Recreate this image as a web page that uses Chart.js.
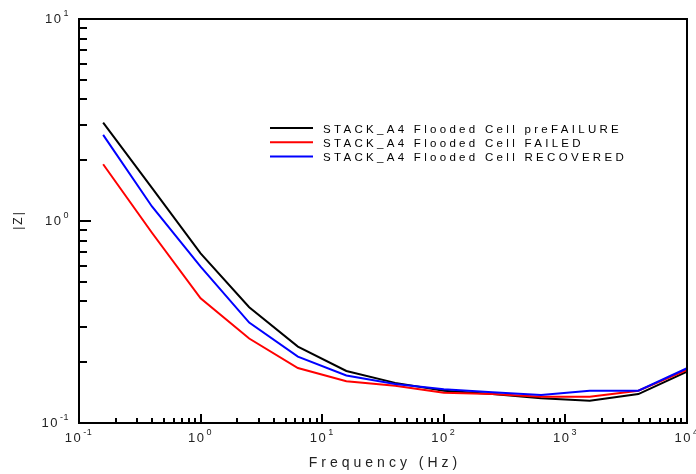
<!DOCTYPE html>
<html>
<head>
<meta charset="utf-8">
<script src="https://cdn.jsdelivr.net/npm/chart.js@4/dist/chart.umd.min.js"></script>
<style>
  html, body { margin: 0; padding: 0; background: #fff; }
  #wrap { width: 696px; height: 474px; }
</style>
</head>
<body>
<div id="wrap"><canvas id="zChart" width="696" height="474"></canvas></div>
<script>
// Frequency points (Hz), 2.5 points per decade
const freq = [0.158, 0.398, 1, 2.51, 6.31, 15.8, 39.8, 100, 251, 631, 1585, 3981, 10000];

// |Z| values
const preFailure = [3.07, 1.46, 0.692, 0.374, 0.239, 0.181, 0.158, 0.1445, 0.139, 0.1325, 0.129, 0.139, 0.1795];
const failed     = [1.91, 0.875, 0.414, 0.262, 0.187, 0.161, 0.153, 0.141, 0.139, 0.135, 0.135, 0.1445, 0.183];
const recovered  = [2.67, 1.18, 0.594, 0.314, 0.213, 0.172, 0.156, 0.147, 0.142, 0.1376, 0.1445, 0.1445, 0.1866];

const seriesNames = [
  'STACK_A4 Flooded Cell preFAILURE',
  'STACK_A4 Flooded Cell FAILED',
  'STACK_A4 Flooded Cell RECOVERED'
];
const seriesColors = ['#000000', '#ff0000', '#0000ff'];

// axis decades (powers of ten)
const xDecades = [-1, 0, 1, 2, 3, 4];
const yDecades = [-1, 0, 1];
const xTitle = 'Frequency (Hz)';
const yTitle = '|Z|';

const FONT = "'Liberation Sans', Arial, Helvetica, sans-serif";

function toPoints(values) {
  return freq.map((f, i) => ({ x: f, y: values[i] }));
}

// draws "10" with a raised exponent, returns nothing
function drawPower(ctx, exp, x, y, align) {
  ctx.letterSpacing = '1.5px';
  ctx.font = '13px ' + FONT;
  const baseW = ctx.measureText('10').width;
  ctx.font = '9px ' + FONT;
  ctx.letterSpacing = '0.5px';
  const expW = ctx.measureText(String(exp)).width;
  let left;
  if (align === 'center') left = x - (baseW + expW) / 2;
  else left = x - baseW - expW; // right aligned
  ctx.textAlign = 'left';
  ctx.textBaseline = 'middle';
  ctx.font = '13px ' + FONT;
  ctx.letterSpacing = '1.5px';
  ctx.fillText('10', left, y);
  ctx.font = '9px ' + FONT;
  ctx.letterSpacing = '0.5px';
  ctx.fillText(String(exp), left + baseW + 1, y - 5);
}

const frameAndTicks = {
  id: 'frameAndTicks',
  afterDraw(chart) {
    const { ctx, chartArea: a, scales } = chart;
    const x = scales.x, y = scales.y;
    ctx.save();
    ctx.strokeStyle = '#000';
    ctx.fillStyle = '#000';
    ctx.lineWidth = 2;
    ctx.strokeRect(a.left, a.top, a.right - a.left, a.bottom - a.top);

    // x ticks, pointing inward from bottom
    ctx.beginPath();
    xDecades.forEach((d, i) => {
      const last = i === xDecades.length - 1;
      for (let m = 1; m <= (last ? 1 : 9); m++) {
        const px = Math.round(x.getPixelForValue(m * Math.pow(10, d)));
        const len = m === 1 ? 9 : 5;
        ctx.moveTo(px, a.bottom);
        ctx.lineTo(px, a.bottom - len);
      }
    });
    // y ticks, pointing inward from left
    yDecades.forEach((d, i) => {
      const last = i === yDecades.length - 1;
      for (let m = 1; m <= (last ? 1 : 9); m++) {
        const py = Math.round(y.getPixelForValue(m * Math.pow(10, d)));
        const len = m === 1 ? 12 : 8;
        ctx.moveTo(a.left, py);
        ctx.lineTo(a.left + len, py);
      }
    });
    ctx.stroke();

    // tick labels
    ctx.fillStyle = '#222';
    xDecades.forEach(d => {
      drawPower(ctx, d, x.getPixelForValue(Math.pow(10, d)) - 1, a.bottom + 15, 'center');
    });
    yDecades.forEach(d => {
      drawPower(ctx, d, a.left - 11, y.getPixelForValue(Math.pow(10, d)), 'right');
    });

    // axis titles
    ctx.font = '14px ' + FONT;
    ctx.letterSpacing = '4px';
    ctx.textAlign = 'center';
    ctx.textBaseline = 'middle';
    ctx.fillText(xTitle, (a.left + a.right) / 2 + 2, a.bottom + 40);

    ctx.save();
    ctx.translate(19, (a.top + a.bottom) / 2);
    ctx.rotate(-Math.PI / 2);
    ctx.font = '12px ' + FONT;
    ctx.letterSpacing = '2px';
    ctx.fillText(yTitle, 1, 0);
    ctx.restore();

    // legend block inside plot area
    const lx = 270, ly = 128;
    ctx.font = '11.5px ' + FONT;
    ctx.letterSpacing = '3.3px';
    ctx.textAlign = 'left';
    ctx.textBaseline = 'middle';
    seriesNames.forEach((name, i) => {
      const rowY = ly + i * 14.2;
      ctx.strokeStyle = seriesColors[i];
      ctx.lineWidth = 2;
      ctx.beginPath();
      ctx.moveTo(lx, rowY);
      ctx.lineTo(lx + 43, rowY);
      ctx.stroke();
      ctx.fillStyle = '#000';
      ctx.fillText(name, lx + 53, rowY + 1.5);
    });
    ctx.restore();
  }
};

const seriesValues = [preFailure, failed, recovered];
const drawOrder = [2, 1, 0]; // blue drawn on top

new Chart(document.getElementById('zChart'), {
  type: 'line',
  data: {
    datasets: seriesValues.map((vals, i) => ({
      label: seriesNames[i],
      data: toPoints(vals),
      borderColor: seriesColors[i],
      backgroundColor: seriesColors[i],
      borderWidth: 2,
      pointRadius: 0,
      tension: 0,
      fill: false,
      order: drawOrder[i]
    }))
  },
  options: {
    responsive: false,
    animation: false,
    layout: { padding: { left: 79, top: 19, right: 9, bottom: 51 } },
    plugins: { legend: { display: false }, tooltip: { enabled: false } },
    scales: {
      x: { type: 'logarithmic', min: 0.1, max: 10000, display: false },
      y: { type: 'logarithmic', min: 0.1, max: 10, display: false }
    }
  },
  plugins: [frameAndTicks]
});
</script>
</body>
</html>
